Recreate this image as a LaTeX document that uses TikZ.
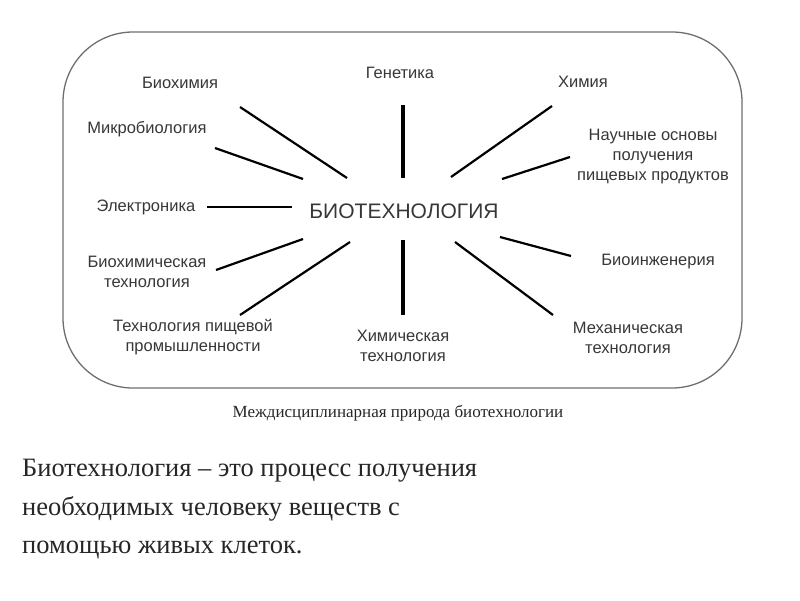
\documentclass[tikz,border=0pt]{standalone}
\usepackage{fontspec}
\setmainfont{Liberation Serif}
\setsansfont{Liberation Sans}
\usetikzlibrary{positioning}

\definecolor{labelgray}{RGB}{55,55,55}
\definecolor{boxgray}{RGB}{110,110,110}

\tikzset{
  field/.style={font=\sffamily\fontsize{16.5}{20}\selectfont, text=labelgray, align=center, inner sep=0pt},
  link/.style={line width=2.2pt, black},
  axis/.style={line width=4pt, black}
}

\begin{document}
\begin{tikzpicture}[x=1pt,y=-1pt]
  \useasboundingbox (0,0) rectangle (800,600);
  \draw[boxgray, line width=1.3pt, rounded corners=70pt] (63,32) rectangle (742,388);

  \node[font=\sffamily\fontsize{21}{24}\selectfont, text=labelgray, inner sep=0pt] (core) at (404,211) {БИОТЕХНОЛОГИЯ};

  \node[field] (biochem) at (180,83)  {Биохимия};
  \node[field] (genet)   at (400,73)  {Генетика};
  \node[field] (chem)    at (583,82)  {Химия};
  \node[field] (micro)   at (147,129) {Микробиология};
  \node[field] (food)    at (653,157) {Научные основы\\получения\\пищевых продуктов};
  \node[field] (elec)    at (146,207) {Электроника};
  \node[field] (bctech)  at (147,272) {Биохимическая\\технология};
  \node[field] (fdind)   at (193,337) {Технология пищевой\\промышленности};
  \node[field] (chtech)  at (403,346) {Химическая\\технология};
  \node[field] (bioeng)  at (658,262) {Биоинженерия};
  \node[field] (mech)    at (628,338) {Механическая\\технология};

  \node[font=\fontsize{17}{20}\selectfont, text=black!85, inner sep=0pt] (caption) at (398,413) {Междисциплинарная природа биотехнологии};

  \node[font=\fontsize{26.5}{38.5}\selectfont, text=black!85, align=left, anchor=north west, inner sep=0pt] (defn) at (22,459)
    {Биотехнология – это процесс получения\\необходимых человеку веществ с\\помощью живых клеток.};

  % spoke ends
  \coordinate (a1) at (240,107); \coordinate (b1) at (347,178);
  \coordinate (a2) at (215,148); \coordinate (b2) at (303,179);
  \coordinate (a3) at (403,105); \coordinate (b3) at (403,178);
  \coordinate (a4) at (552,106); \coordinate (b4) at (451,177);
  \coordinate (a5) at (570,157); \coordinate (b5) at (502,179);
  \coordinate (a6) at (207,207); \coordinate (b6) at (292,207);
  \coordinate (a7) at (216,270); \coordinate (b7) at (303,239);
  \coordinate (a8) at (240,315); \coordinate (b8) at (350,242);
  \coordinate (a9) at (403,315); \coordinate (b9) at (403,240);
  \coordinate (a10) at (571,256); \coordinate (b10) at (500,237);
  \coordinate (a11) at (553,315); \coordinate (b11) at (455,242);

  \path[link] (a1) edge (b1)
              (a2) edge (b2)
              (a4) edge (b4)
              (a5) edge (b5)
              (a6) edge (b6)
              (a7) edge (b7)
              (a8) edge (b8)
              (a10) edge (b10)
              (a11) edge (b11);
  \path[axis] (a3) edge (b3)
              (a9) edge (b9);
\end{tikzpicture}
\end{document}
